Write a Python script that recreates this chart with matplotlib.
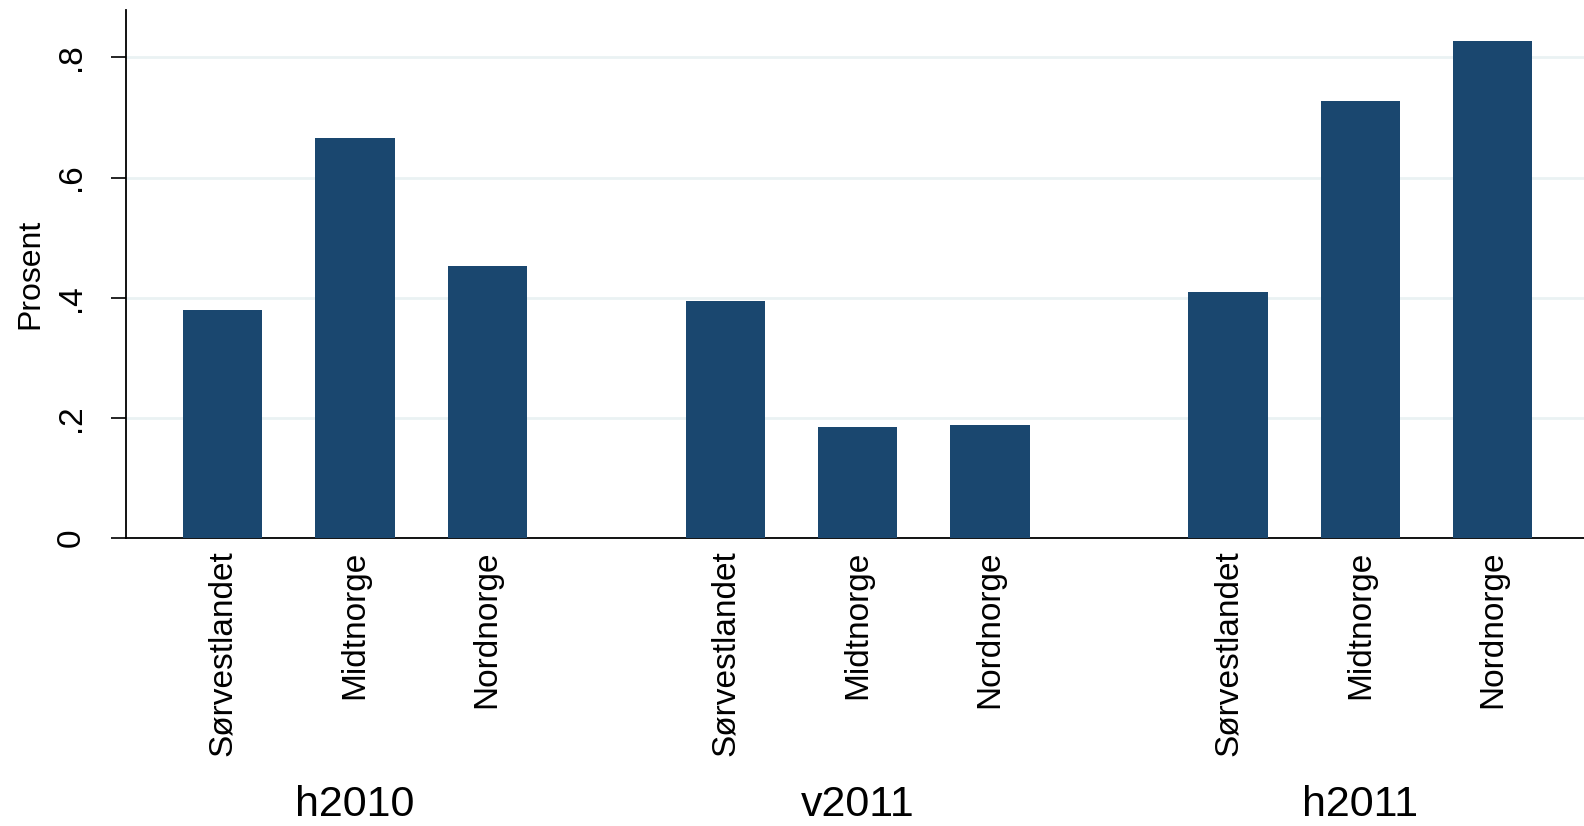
import numpy as np
import matplotlib.pyplot as plt
from matplotlib.transforms import blended_transform_factory

plt.rcParams['font.family'] = ['Liberation Sans', 'DejaVu Sans']

perioder = ['h2010', 'v2011', 'h2011']
regioner = ['Sørvestlandet', 'Midtnorge', 'Nordnorge']
h2010 = [0.380, 0.666, 0.452]
v2011 = [0.395, 0.185, 0.188]
h2011 = [0.410, 0.728, 0.827]
verdier = [h2010, v2011, h2011]

farge = '#1a476f'
gruppeavstand = 3.8

fig = plt.figure(figsize=(15.84, 8.26), dpi=100)
ax = fig.add_axes([126/1584, 1 - 538/826, 1 - 126/1584, (538 - 10)/826])
trans = blended_transform_factory(ax.transData, fig.transFigure)

xpos = []
xlab = []
for g, per in enumerate(perioder):
    x = g * gruppeavstand + np.arange(len(regioner))
    ax.bar(x, verdier[g], width=0.6, color=farge, zorder=3)
    xpos.extend(x)
    xlab.extend(regioner)
    # gruppenavn under hver gruppe
    ax.text(x[1], 1 - 805/826, per, transform=trans,
            ha='center', va='center', fontsize=31)

ax.set_xticks(xpos)
ax.set_xticklabels(xlab, rotation=90, fontsize=24, va='top')
ax.tick_params(axis='x', length=0, pad=9)
ax.set_xlim(-0.73, 2 * gruppeavstand + 2 + 0.69)

ax.set_ylim(0, 0.879)
ax.set_yticks([0, 0.2, 0.4, 0.6, 0.8])
ax.set_yticklabels(['0', '.2', '.4', '.6', '.8'], rotation=90, va='center', fontsize=24)
ax.tick_params(axis='y', length=11, width=1.2, pad=17)
ax.set_ylabel('Prosent', fontsize=23, labelpad=8)
ax.yaxis.grid(True, color='#eaf2f3', linewidth=2, zorder=0)

for s in ['top', 'right']:
    ax.spines[s].set_visible(False)
ax.spines['left'].set_linewidth(1.3)
ax.spines['bottom'].set_linewidth(1.3)

fig.savefig('out.png', dpi=100)
